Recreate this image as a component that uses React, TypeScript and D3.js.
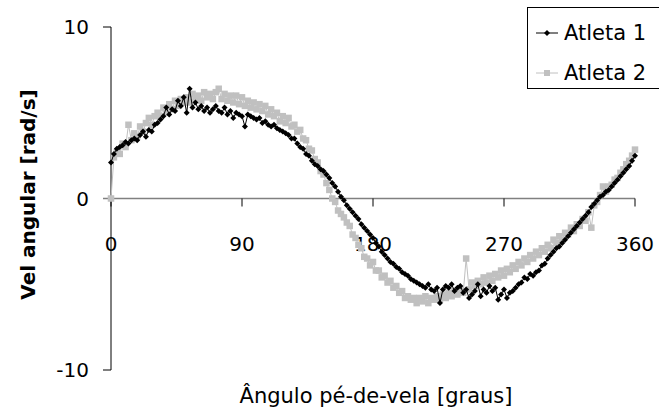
import React from "react";
import * as d3 from "d3";

// Crank angle samples (degrees), one every 2°
const angles: number[] = d3.range(0, 361, 2);

// Angular velocity [rad/s] per crank angle
const atleta1: number[] = [
  2.1, 2.6, 2.9, 3.0, 3.1, 3.3, 3.2, 3.4, 3.5, 3.4,
  3.7, 3.9, 3.6, 4.0, 3.9, 4.3, 4.4, 4.6, 4.8, 5.3,
  4.9, 5.2, 5.1, 5.7, 5.4, 5.9, 5.0, 6.4, 5.3, 5.6,
  5.2, 5.4, 5.1, 5.3, 5.0, 5.2, 5.4, 5.1, 5.0, 5.3,
  4.9, 5.1, 4.7, 5.0, 4.9, 4.8, 4.2, 4.9, 4.8, 4.7,
  4.6, 4.7, 4.4, 4.5, 4.3, 4.2, 4.3, 4.1, 4.0, 3.9,
  3.8, 3.7, 3.5, 3.5, 3.2, 3.0, 2.9, 2.6, 2.5, 2.2,
  2.0, 1.9, 1.7, 1.6, 1.4, 1.2, 0.9, 0.7, 0.4, 0.1,
  -0.1, -0.4, -0.6, -0.8, -1.0, -1.2, -1.5, -1.7, -1.9, -2.1,
  -2.3, -2.6, -2.8, -3.1, -3.3, -3.5, -3.7, -3.8, -4.0, -4.1,
  -4.3, -4.4, -4.5, -4.7, -4.8, -4.9, -5.0, -5.1, -5.2, -5.0,
  -5.3, -5.4, -5.2, -6.1, -5.3, -5.1, -5.2, -5.0, -5.4, -5.2,
  -5.1, -5.5, -5.3, -5.8, -5.6, -5.4, -5.0, -5.7, -5.3, -5.5,
  -5.1, -5.4, -5.2, -5.9, -5.6, -5.3, -5.8, -5.5, -5.4, -5.2,
  -5.0, -4.9, -4.6, -4.7, -4.4, -4.5, -4.3, -4.2, -3.9, -3.8,
  -3.5, -3.3, -3.1, -2.9, -2.8, -2.6, -2.4, -2.2, -2.0, -1.8,
  -1.6, -1.4, -1.2, -1.0, -0.8, -0.5, -0.3, -0.1, 0.1, 0.2,
  0.4, 0.5, 0.7, 0.9, 1.1, 1.3, 1.5, 1.7, 1.9, 2.2,
  2.5,
];

const atleta2: number[] = [
  0.0, 2.4, 2.7, 2.6, 3.2, 3.0, 4.3, 3.4, 3.8, 3.6,
  4.2, 3.9, 4.4, 4.7, 4.3, 4.8, 5.0, 4.8, 5.3, 5.0,
  5.5, 5.2, 5.7, 5.4, 5.8, 5.6, 5.9, 5.6, 6.1, 5.8,
  6.0, 5.7, 6.2, 5.9, 6.1, 5.8, 6.2, 6.4, 5.8, 6.1,
  5.7, 6.0, 5.6, 6.0, 5.5, 5.9, 5.4, 5.7, 5.3, 5.6,
  5.2, 5.5, 5.1, 5.4, 4.9, 5.2, 4.8, 5.0, 4.5, 4.8,
  4.4, 4.7, 4.2, 4.3, 3.9, 4.0, 3.5, 3.4, 2.9, 2.8,
  2.3, 2.1, 1.6, 1.4, 0.9, 0.5, 0.0, -0.2, -0.7, -0.9,
  -1.1, -1.4, -1.6, -2.1, -2.3, -2.7, -2.9, -3.4, -3.5, -3.9,
  -3.7, -4.2, -4.2, -4.6, -4.5, -4.9, -4.8, -5.2, -5.1, -5.5,
  -5.4, -5.8, -5.7, -5.9, -5.8, -6.1, -5.8, -6.0, -5.7, -6.1,
  -5.8, -5.9, -5.7, -5.9, -5.6, -5.8, -5.5, -5.7, -5.4, -5.6,
  -5.3, -5.5, -3.5, -5.3, -4.9, -5.1, -4.8, -5.0, -4.6, -4.9,
  -4.5, -4.8, -4.4, -4.6, -4.2, -4.5, -4.1, -4.3, -3.9, -4.1,
  -3.7, -3.9, -3.5, -3.7, -3.3, -3.5, -3.1, -3.3, -2.9, -3.1,
  -2.7, -2.9, -2.4, -2.6, -2.2, -2.4, -2.0, -2.1, -1.7, -1.9,
  -1.5, -1.6, -1.2, -1.3, -0.8, -1.7, -0.4, -0.2, 0.2, 0.7,
  0.4, 0.7, 0.8, 1.1, 1.2, 1.5, 1.7, 2.0, 2.2, 2.5,
  2.85,
];

const seriesNames: string[] = ["Atleta 1", "Atleta 2"];
const xTicks: number[] = [0, 90, 180, 270, 360];
const yTicks: number[] = [-10, 0, 10];

const FONT = "'DejaVu Sans', 'Noto Sans', sans-serif";
const GREY = "#c0c0c0";
const DIAMOND = "M0,-3L3,0L0,3L-3,0Z";

export default function App() {
  const x = d3.scaleLinear().domain([0, 360]).range([111, 635]);
  const y = d3.scaleLinear().domain([-10, 10]).range([370, 27]);

  const line = d3
    .line<[number, number]>()
    .x((d) => x(d[0]))
    .y((d) => y(d[1]));

  const pts1: [number, number][] = angles.map((a, i) => [a, atleta1[i]]);
  const pts2: [number, number][] = angles.map((a, i) => [a, atleta2[i]]);

  return (
    <svg
      width={659}
      height={416}
      style={{ position: "absolute", left: 0, top: 0, background: "#fff" }}
      fontFamily={FONT}
    >
      <rect x={0} y={0} width={659} height={416} fill="#fff" />

      {/* Y axis */}
      <line x1={x(0)} x2={x(0)} y1={y(10)} y2={y(-10)} stroke="#000" strokeWidth={1} />
      {yTicks.map((t) => (
        <g key={"yt" + t}>
          <line x1={x(0) - 8} x2={x(0)} y1={y(t)} y2={y(t)} stroke="#000" />
          <text
            x={89}
            y={y(t)}
            textAnchor="end"
            dominantBaseline="central"
            fontSize={20}
            fill="#000"
          >
            {t}
          </text>
        </g>
      ))}

      {/* X axis crossing at zero */}
      <line x1={x(0) - 8} x2={x(360)} y1={y(0)} y2={y(0)} stroke="#808080" strokeWidth={1.5} />
      {xTicks.map((t) => (
        <g key={"xt" + t}>
          <line x1={x(t)} x2={x(t)} y1={y(0)} y2={y(0) + 8} stroke="#000" />
          <text x={x(t)} y={251} textAnchor="middle" fontSize={20} fill="#000">
            {t}
          </text>
        </g>
      ))}

      {/* Atleta 2 */}
      <path d={line(pts2) ?? ""} fill="none" stroke={GREY} strokeWidth={1} />
      {pts2.map((d, i) => (
        <rect key={"m2" + i} x={x(d[0]) - 3.25} y={y(d[1]) - 3.25} width={6.5} height={6.5} fill={GREY} />
      ))}

      {/* Atleta 1 */}
      <path d={line(pts1) ?? ""} fill="none" stroke="#000" strokeWidth={1} />
      {pts1.map((d, i) => (
        <path key={"m1" + i} d={DIAMOND} transform={`translate(${x(d[0])},${y(d[1])})`} fill="#000" />
      ))}

      {/* Axis titles */}
      <text x={376} y={403} textAnchor="middle" fontSize={21} fill="#000">
        Ângulo pé-de-vela [graus]
      </text>
      <text
        transform={`translate(35,${y(0) - 4}) rotate(-90)`}
        textAnchor="middle"
        fontSize={20}
        fontWeight="bold"
        fill="#000"
      >
        Vel angular [rad/s]
      </text>

      {/* Legend */}
      <rect x={527.5} y={7.5} width={140} height={81} fill="#fff" stroke="#000" strokeWidth={1} />
      <line x1={536} x2={558} y1={33} y2={33} stroke="#000" />
      <path d={DIAMOND} transform="translate(547,33)" fill="#000" />
      <text x={564} y={33} dominantBaseline="central" fontSize={21} fill="#000">
        {seriesNames[0]}
      </text>
      <line x1={536} x2={558} y1={73} y2={73} stroke={GREY} />
      <rect x={544} y={70} width={6} height={6} fill={GREY} />
      <text x={564} y={73} dominantBaseline="central" fontSize={21} fill="#000">
        {seriesNames[1]}
      </text>
    </svg>
  );
}
